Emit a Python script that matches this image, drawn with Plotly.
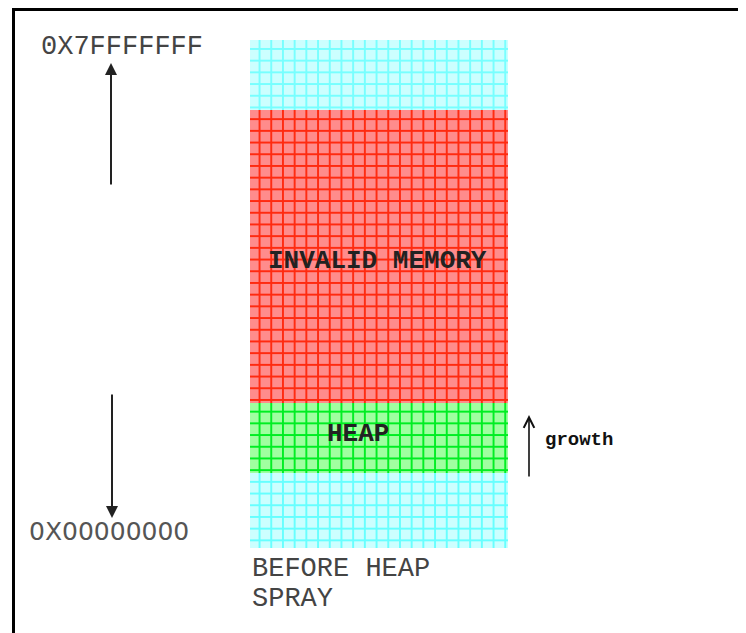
import plotly.graph_objects as go
import numpy as np

# ---- data (units: vertical extent of each memory region, bottom to top) ----
region_names = ["FREE_LOW", "HEAP", "INVALID MEMORY", "FREE_HIGH"]
region_sizes = [75, 70, 293, 70]
region_base = 85
region_fill = ["#ccffff", "#a0ffa0", "#ff8c8c", "#ccffff"]
region_grid = ["#66ffff", "#00ee22", "#ff2a10", "#77ffff"]

addr_high = "0X7FFFFFFF"
addr_low = "0X00000000"
caption_lines = ["BEFORE HEAP", "SPRAY"]
growth_label = "growth"

column_x = 379
column_w = 258

bases = region_base + np.concatenate([[0], np.cumsum(region_sizes)[:-1]])

fig = go.Figure()
for name, size, b, fc, gc in zip(region_names, region_sizes, bases, region_fill, region_grid):
    fig.add_trace(go.Bar(
        x=[column_x], y=[size], base=[b], width=[column_w], name=name,
        marker=dict(color=fc, line=dict(width=0),
                    pattern=dict(shape="+", fillmode="replace", bgcolor=fc,
                                 fgcolor=gc, size=11.7, solidity=0.3)),
        hoverinfo="skip", showlegend=False,
    ))

mono = "Liberation Mono"
ann = []
# region labels
ann.append(dict(x=377, y=bases[2] + region_sizes[2] / 2 - 4, text="<b>INVALID MEMORY</b>",
                font=dict(family=mono, size=26, color="#222"), showarrow=False))
ann.append(dict(x=358, y=bases[1] + region_sizes[1] / 2 + 4, text="<b>HEAP</b>",
                font=dict(family=mono, size=26, color="#222"), showarrow=False))
# addresses
ann.append(dict(x=39, y=633 - 47, text=addr_high, xanchor="left",
                font=dict(family=mono, size=27, color="#444"), showarrow=False))
ann.append(dict(x=27, y=633 - 531, text=addr_low, xanchor="left",
                font=dict(family="DejaVu Sans", size=25, color="#555"), showarrow=False))
# caption
for i, line in enumerate(caption_lines):
    ann.append(dict(x=250, y=633 - 569 - 30 * i, text=line, xanchor="left",
                    font=dict(family=mono, size=27, color="#444"), showarrow=False))
# growth
ann.append(dict(x=543, y=633 - 440, text="<b>" + growth_label + "</b>", xanchor="left",
                font=dict(family=mono, size=19, color="#111"), showarrow=False))
# arrows
ann.append(dict(x=111, y=633 - 63, ax=111, ay=633 - 186, xref="x", yref="y",
                axref="x", ayref="y", text="", showarrow=True, arrowhead=2,
                arrowsize=1.2, arrowwidth=2, arrowcolor="#222"))
ann.append(dict(x=112, y=633 - 518, ax=112, ay=633 - 393, xref="x", yref="y",
                axref="x", ayref="y", text="", showarrow=True, arrowhead=2,
                arrowsize=1.2, arrowwidth=2, arrowcolor="#222"))
ann.append(dict(x=529, y=633 - 415, ax=529, ay=633 - 478, xref="x", yref="y",
                axref="x", ayref="y", text="", showarrow=True, arrowhead=5,
                arrowsize=1.3, arrowwidth=1.6, arrowcolor="#111"))

# page body has an 8px margin: shift the data window so reference pixels line up
fig.update_layout(
    width=746, height=633,
    margin=dict(l=0, r=0, t=0, b=0),
    paper_bgcolor="white", plot_bgcolor="white",
    barmode="overlay", bargap=0,
    xaxis=dict(range=[8, 754], visible=False, fixedrange=True),
    yaxis=dict(range=[-8, 625], visible=False, fixedrange=True),
    annotations=ann,
    shapes=[dict(type="rect", xref="paper", yref="paper", x0=(13.5 - 8) / 746, x1=1.05,
                 y0=-0.05, y1=1 - (9.5 - 8) / 633, line=dict(color="black", width=3),
                 fillcolor="rgba(0,0,0,0)", layer="above")],
)

fig.write_html("out.html")
